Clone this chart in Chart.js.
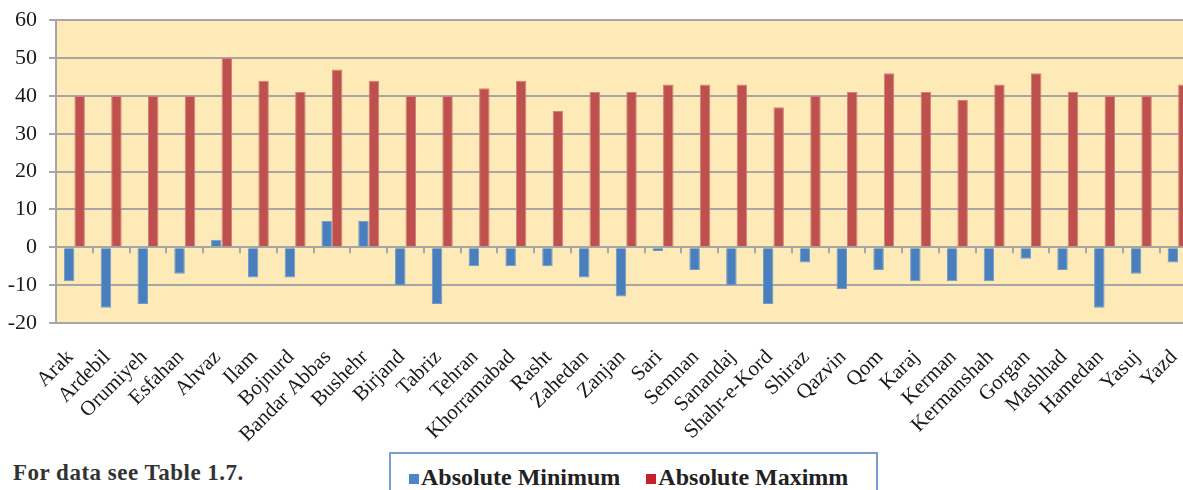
<!DOCTYPE html>
<html>
<head>
<meta charset="utf-8">
<script src="https://cdn.jsdelivr.net/npm/chart.js@4.4.0/dist/chart.umd.min.js"></script>
<style>
    html, body { margin: 0; padding: 0; background: #fff; overflow: hidden; }
    #wrap { position: relative; width: 1183px; height: 490px; overflow: hidden; }
    #c { position: absolute; left: 0; top: -5px; }
    .note { position: absolute; left: 13px; top: 460px; font: bold 23px 'Liberation Serif', serif; color: #333; letter-spacing: 0.5px; }
    .lg { position: absolute; left: 389px; top: 452px; width: 489px; height: 60px; border: 2px solid #7C9CCB; box-sizing: border-box; padding: 10px 0 0 18px; }
    .lg__item { display: inline-block; font: bold 24px 'Liberation Serif', serif; color: #222; margin-right: 26px; }
    .lg__dot { display: inline-block; width: 10px; height: 10px; background: var(--c); margin-right: 2px; vertical-align: 1px; }
</style>
</head>
<body>
<div id="wrap">
    <canvas id="c" width="1218" height="456"></canvas>
    <div class="note">For data see Table 1.7.</div>
    <div class="lg" id="legend"></div>
</div>
<script>
    // ------- Datos -------
    const cities = ['Arak', 'Ardebil', 'Orumiyeh', 'Esfahan', 'Ahvaz', 'Ilam', 'Bojnurd', 'Bandar Abbas',
        'Bushehr', 'Birjand', 'Tabriz', 'Tehran', 'Khorramabad', 'Rasht', 'Zahedan', 'Zanjan', 'Sari',
        'Semnan', 'Sanandaj', 'Shahr-e-Kord', 'Shiraz', 'Qazvin', 'Qom', 'Karaj', 'Kerman', 'Kermanshah',
        'Gorgan', 'Mashhad', 'Hamedan', 'Yasuj', 'Yazd'];
    const absMin = [-9, -16, -15, -7, 2, -8, -8, 7, 7, -10, -15, -5, -5, -5, -8, -13, -1,
        -6, -10, -15, -4, -11, -6, -9, -9, -9, -3, -6, -16, -7, -4];
    const absMax = [40, 40, 40, 40, 50, 44, 41, 47, 44, 40, 40, 42, 44, 36, 41, 41, 43,
        43, 43, 37, 40, 41, 46, 41, 39, 43, 46, 41, 40, 40, 43];
    const yTicks = [-20, -10, 0, 10, 20, 30, 40, 50, 60];
    const seriesNames = ['Absolute Minimum', 'Absolute Maximm'];

    const GRID = '#A6A6A6';
    const FONT = "'Liberation Serif', 'Times New Roman', serif";

    // fondo del área de trazado
    const plotBg = {
        id: 'plotBg',
        beforeDraw(chart) {
            const a = chart.chartArea, ctx = chart.ctx;
            ctx.save();
            ctx.fillStyle = '#FEEAB6';
            ctx.fillRect(a.left, a.top, a.right - a.left, a.bottom - a.top);
            ctx.restore();
        }
    };

    // marcas pequeñas sobre la línea del cero, entre categorías
    const zeroTicks = {
        id: 'zeroTicks',
        afterDatasetsDraw(chart) {
            const xs = chart.scales.x, ys = chart.scales.y, ctx = chart.ctx;
            const y0 = ys.getPixelForValue(0);
            ctx.save();
            ctx.strokeStyle = GRID;
            ctx.lineWidth = 2;
            ctx.beginPath();
            for (let i = 1; i <= cities.length; i++) {
                const x = Math.round((xs.getPixelForValue(i - 1) + xs.getPixelForValue(i)) / 2);
                ctx.moveTo(x, y0);
                ctx.lineTo(x, y0 + 6);
            }
            ctx.stroke();
            ctx.restore();
        }
    };

    const chart = new Chart(document.getElementById('c'), {
        type: 'bar',
        data: {
            labels: cities,
            datasets: [
                { label: seriesNames[0], data: absMin, backgroundColor: '#4A7FBD', borderColor: '#6E9AD0', borderWidth: 1 },
                { label: seriesNames[1], data: absMax, backgroundColor: '#BE504E', borderColor: '#D47F7C', borderWidth: 1 }
            ]
        },
        options: {
            responsive: false,
            animation: false,
            layout: { padding: { top: 14, right: 3, left: 8, bottom: 0 } },
            datasets: { bar: { categoryPercentage: 0.57, barPercentage: 1 } },
            plugins: { legend: { display: false }, tooltip: { enabled: false } },
            scales: {
                x: {
                    grid: { display: false, drawTicks: false },
                    border: { display: false },
                    ticks: {
                        autoSkip: false, minRotation: 45, maxRotation: 45, padding: 22, labelOffset: -4,
                        color: '#1a1a1a', font: { family: FONT, size: 21 }
                    },
                    afterFit: (s) => { s.height = 128; }
                },
                y: {
                    min: -20, max: 60,
                    afterBuildTicks: (s) => { s.ticks = yTicks.map(v => ({ value: v })); },
                    grid: { color: GRID, lineWidth: 2, tickLength: 7 },
                    border: { color: GRID, width: 2 },
                    ticks: { padding: 12, color: '#1a1a1a', font: { family: FONT, size: 22 } },
                    afterFit: (s) => { s.width = 48; }
                }
            }
        },
        plugins: [plotBg, zeroTicks]
    });

    // leyenda en HTML
    const legendColors = ['#4A86C8', '#C8202A'];
    document.getElementById('legend').innerHTML = seriesNames.map((l, i) =>
        `<span class="lg__item"><span class="lg__dot" style="--c:${legendColors[i]}"></span>${l}</span>`
    ).join('');
</script>
</body>
</html>
